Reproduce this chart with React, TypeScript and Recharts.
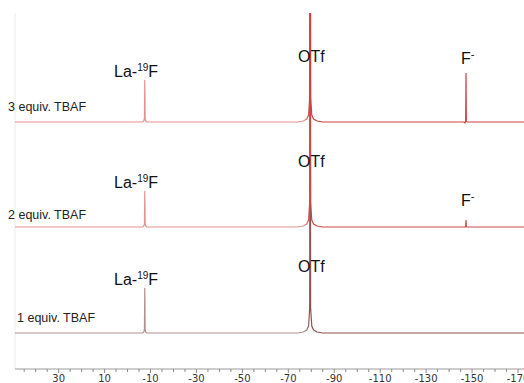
import React from 'react';
import { LineChart, Line, XAxis, YAxis, ReferenceLine } from 'recharts';

// chemical shift (ppm) and intensity of the hand-read points of each spectrum
const ppm3 = [49, -6.6, -7.1, -7.35, -7.5, -7.65, -7.9, -8.4, -74, -76.5, -78, -78.8, -79.3, -79.5, -79.7, -80.2, -81, -82.5, -85, -146.4, -146.9, -147.2, -147.35, -147.5, -147.8, -180];
const int3 = [0, 0, 1, 4, 42, 4, 1, 0, 0, 1, 3, 7, 25, 500, 25, 7, 3, 1, 0, 0, -1, 1, 49, 1, 0, 0];

const ppm2 = [49, -6.6, -7.1, -7.35, -7.5, -7.65, -7.9, -8.4, -74, -76.5, -78, -78.8, -79.3, -79.5, -79.7, -80.2, -81, -82.5, -85, -146.9, -147.2, -147.35, -147.5, -180];
const int2 = [0, 0, 1, 3, 36, 3, 1, 0, 0, 1, 3, 7, 25, 500, 25, 7, 3, 1, 0, 0, 1, 7, 0, 0];

const ppm1 = [49, -6.6, -7.1, -7.35, -7.5, -7.65, -7.9, -8.4, -74, -76.5, -78, -78.8, -79.3, -79.5, -79.7, -80.2, -81, -82.5, -85, -180];
const int1 = [0, 0, 1, 4, 45, 4, 1, 0, 0, 1, 3, 7, 25, 500, 25, 7, 3, 1, 0, 0];

const MAJOR_TICKS = [30, 10, -10, -30, -50, -70, -90, -110, -130, -150, -170];
const ALL_TICKS: number[] = [];
for (let v = 45; v >= -180; v -= 5) ALL_TICKS.push(v);

const toRows = (p: number[], v: number[]) => p.map((ppm, i) => ({ ppm, i: v[i] }));
const trace3 = toRows(ppm3, int3);
const trace2 = toRows(ppm2, int2);
const trace1 = toRows(ppm1, int1);

const PpmTick = ({ x, y, payload }: any) => {
  const major = MAJOR_TICKS.includes(payload.value);
  return (
    <g>
      <line x1={x} x2={x} y1={y} y2={y + (major ? 4 : 3)} stroke="#8a8a8a" strokeWidth={1} />
      {major && (
        <text x={x} y={y + 13} textAnchor="middle" fontSize={10} fill="#333" fontFamily="DejaVu Sans, sans-serif">
          {payload.value}
        </text>
      )}
    </g>
  );
};

const labelFont = '"Liberation Sans", Arial, sans-serif';

const LaF = ({ x, y }: { x: number; y: number }) => (
  <text x={x} y={y} fontSize={16} fill="#111" fontFamily={labelFont}>
    La-<tspan fontSize={10} dy={-6}>19</tspan><tspan dy={6}>F</tspan>
  </text>
);

const FMinus = ({ x, y }: { x: number; y: number }) => (
  <text x={x} y={y} fontSize={16} fill="#111" fontFamily={labelFont}>
    F<tspan fontSize={11} dy={-6}>-</tspan>
  </text>
);

const OTf = ({ x, y }: { x: number; y: number }) => (
  <text x={x} y={y} fontSize={16} fill="#111" fontFamily={labelFont}>OTf</text>
);

const Equiv = ({ x, y, n }: { x: number; y: number; n: number }) => (
  <text x={x} y={y} fontSize={12.5} fill="#222" fontFamily={labelFont}>{n} equiv. TBAF</text>
);

export default function App() {
  return (
    <div style={{ position: 'absolute', left: 0, top: 0, width: 524, height: 383, overflow: 'hidden', background: '#fff' }}>
      <LineChart width={541} height={383} margin={{ top: 13, right: 0, bottom: 0, left: 15 }}>
        <defs>
          <linearGradient id="red3" x1="0" y1="0" x2="1" y2="0">
            <stop offset="0.55" stopColor="#e48f8f" />
            <stop offset="0.56" stopColor="#d04040" />
          </linearGradient>
          <linearGradient id="red2" x1="0" y1="0" x2="1" y2="0">
            <stop offset="0.55" stopColor="#e29191" />
            <stop offset="0.56" stopColor="#cc4848" />
          </linearGradient>
          <linearGradient id="brown1" x1="0" y1="0" x2="1" y2="0">
            <stop offset="0.55" stopColor="#b09090" />
            <stop offset="0.56" stopColor="#8a5252" />
          </linearGradient>
        </defs>
        <XAxis
          dataKey="ppm"
          type="number"
          domain={[-180, 49]}
          reversed
          ticks={ALL_TICKS}
          interval={0}
          tick={<PpmTick />}
          tickLine={false}
          tickSize={0}
          tickMargin={0}
          height={14}
          axisLine={{ stroke: '#9a9a9a' }}
          allowDataOverflow
        />
        <YAxis yAxisId="t3" hide domain={[-247, 109]} allowDataOverflow />
        <YAxis yAxisId="t2" hide domain={[-142, 214]} allowDataOverflow />
        <YAxis yAxisId="t1" hide domain={[-36, 320]} allowDataOverflow />
        <ReferenceLine yAxisId="t3" x={49} stroke="#ececec" />
        <Line yAxisId="t1" data={trace1} dataKey="i" type="linear" stroke="url(#brown1)" strokeWidth={1.2} dot={false} isAnimationActive={false} />
        <Line yAxisId="t2" data={trace2} dataKey="i" type="linear" stroke="url(#red2)" strokeWidth={1.2} dot={false} isAnimationActive={false} />
        <Line yAxisId="t3" data={trace3} dataKey="i" type="linear" stroke="url(#red3)" strokeWidth={1.2} dot={false} isAnimationActive={false} />
      </LineChart>
      <svg width={524} height={383} style={{ position: 'absolute', left: 0, top: 0, pointerEvents: 'none' }}>
        <LaF x={114} y={77} />
        <OTf x={298} y={62} />
        <FMinus x={461} y={64} />
        <Equiv x={8} y={111} n={3} />

        <LaF x={114} y={188} />
        <OTf x={298} y={167} />
        <FMinus x={461} y={206} />
        <Equiv x={8} y={219} n={2} />

        <LaF x={114} y={285} />
        <OTf x={298} y={272} />
        <Equiv x={17} y={322} n={1} />
      </svg>
    </div>
  );
}
